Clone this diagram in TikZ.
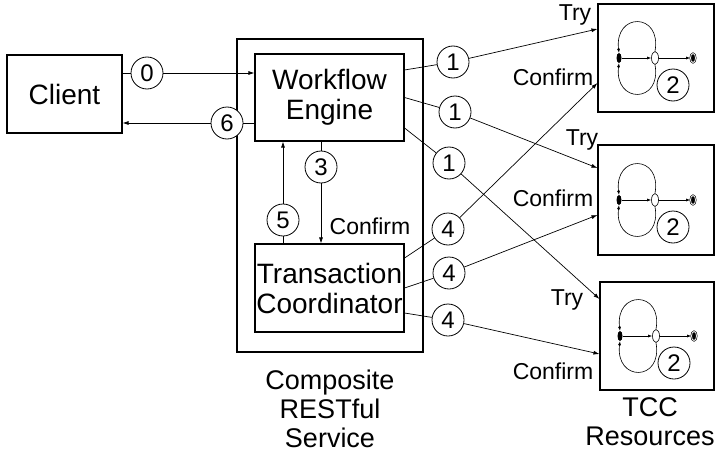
\documentclass[tikz,border=0pt]{standalone}
\usepackage{fontspec}
\setmainfont{Liberation Sans}
\usetikzlibrary{arrows.meta,shapes.geometric}

\begin{document}
\begin{tikzpicture}[
        x=1pt, y=-1pt,
        box/.style={rectangle, draw, line width=1.1pt, inner sep=0pt, align=center, font=\fontsize{28}{30}\selectfont},
        numcirc/.style={circle, draw, line width=0.8pt, fill=white, minimum size=32pt, inner sep=0pt, font=\fontsize{24}{24}\selectfont},
        lbl/.style={font=\fontsize{23}{23}\selectfont},
        biglbl/.style={align=center, font=\fontsize{27}{29}\selectfont},
        conn/.style={line width=0.7pt, -{Latex[length=6pt,width=4pt]}},
        stconn/.style={line width=0.6pt, -{Latex[length=4pt,width=3pt]}},
        startst/.style={ellipse, fill=black, minimum width=5pt, minimum height=10pt, inner sep=0pt},
        midst/.style={ellipse, draw, fill=white, line width=0.6pt, minimum width=7pt, minimum height=13pt, inner sep=0pt},
        endst/.style={ellipse, draw, fill=black, double=white, double distance=0.8pt, line width=0.6pt, minimum width=5pt, minimum height=9pt, inner sep=0pt}
    ]
    \useasboundingbox (0,0) rectangle (717,460);

    % Klient a slozena sluzba
    \node[box, minimum width=115pt, minimum height=78pt] (client) at (64.5,94) {Client};
    \node[box, minimum width=186pt, minimum height=313pt] (composite) at (330,195.5) {};
    \node[box, minimum width=149pt, minimum height=87pt] (engine) at (329.5,97.5) {Workflow\\Engine};
    \node[box, minimum width=149pt, minimum height=88pt] (coord) at (329.5,288) {Transaction\\Coordinator};

    % TCC zdroje
    \node[box, minimum width=116pt, minimum height=108pt] (res1) at (656,58) {};
    \node[box, minimum width=116pt, minimum height=110pt] (res2) at (656,200) {};
    \node[box, minimum width=114pt, minimum height=108pt] (res3) at (657,336) {};

    % Maly stavovy automat v kazdem zdroji
    \foreach \r in {res1,res2,res3}{
        \begin{scope}[shift={(\r.center)}]
            \node[startst] (\r-a) at (-37,0) {};
            \node[midst] (\r-b) at (-1,0) {};
            \node[endst] (\r-c) at (37,0) {};
            \node[numcirc] (\r-n) at (17,27) {2};
            \draw[stconn] (\r-a) -- (\r-b);
            \draw[stconn] (\r-b) -- (\r-c);
            \draw[stconn] (\r-b.north) .. controls (6,-46) and (-42,-46) .. (\r-a.north);
            \draw[stconn] (\r-b.south) .. controls (6,46) and (-42,46) .. (\r-a.south);
        \end{scope}
    }

    % Cislovane kroky
    \node[numcirc] (c0) at (147,73) {0};
    \node[numcirc] (c6) at (227,123) {6};
    \node[numcirc] (c3) at (321,167) {3};
    \node[numcirc] (c5) at (283,220) {5};
    \node[numcirc] (t1) at (453,62) {1};
    \node[numcirc] (t2) at (455,112) {1};
    \node[numcirc] (t3) at (449,163) {1};
    \node[numcirc] (f1) at (448,229) {4};
    \node[numcirc] (f2) at (449,273) {4};
    \node[numcirc] (f3) at (448,320) {4};

    % Popisky
    \node[lbl] (try1) at (575,15) {Try};
    \node[lbl] (conf1) at (553,77) {Confirm};
    \node[lbl] (try2) at (582,140) {Try};
    \node[lbl] (conf2) at (553,198) {Confirm};
    \node[lbl] (try3) at (567,300) {Try};
    \node[lbl] (conf3) at (553,371) {Confirm};
    \node[lbl] (confin) at (370,226) {Confirm};
    \node[biglbl] (complbl) at (330,409) {Composite\\RESTful\\Service};
    \node[biglbl] (tcclbl) at (650,422) {TCC\\Resources};

    % Klient <-> Workflow Engine
    \draw[conn] ([yshift=21pt]client.east) -- (c0) -- ([yshift=24.5pt]engine.west);
    \draw[conn] ([yshift=-25.5pt]engine.west) -- (c6) -- ([yshift=-29pt]client.east);

    % Engine <-> Coordinator
    \draw[conn] ([xshift=-8.5pt]engine.south) -- (c3) -- ([xshift=-8.5pt]coord.north);
    \draw[conn] ([xshift=-46.5pt]coord.north) -- (c5) -- ([xshift=-46.5pt]engine.south);

    % Try
    \draw[conn] ([yshift=27.5pt]engine.east) -- (t1) -- ([yshift=29pt]res1.west);
    \draw[conn] (engine.east) -- (t2) -- ([yshift=32pt]res2.west);
    \draw[conn] ([yshift=-30.5pt]engine.east) -- (t3) -- ([yshift=37pt]res3.west);

    % Confirm
    \draw[conn] ([yshift=30pt]coord.east) -- (f1) -- ([yshift=-25pt]res1.west);
    \draw[conn] (coord.east) -- (f2) -- ([yshift=-15pt]res2.west);
    \draw[conn] ([yshift=-25pt]coord.east) -- (f3) -- ([yshift=-18pt]res3.west);

\end{tikzpicture}
\end{document}
